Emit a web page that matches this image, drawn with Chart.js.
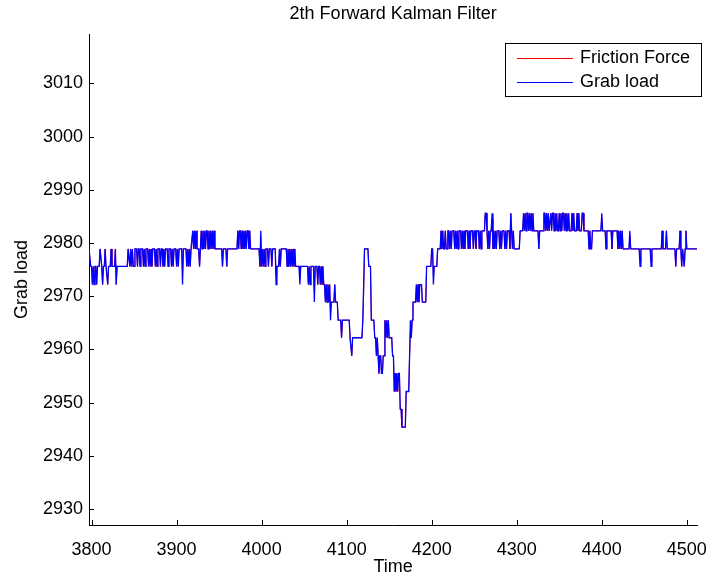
<!DOCTYPE html>
<html>
<head>
<meta charset="utf-8">
<title>2th Forward Kalman Filter</title>
<script src="https://cdn.jsdelivr.net/npm/chart.js@4/dist/chart.umd.min.js"></script>
<style>
    html, body { margin: 0; padding: 0; background: #ffffff; }
    canvas { display: block; }
</style>
</head>
<body>
<canvas id="kalmanChart" width="721" height="578"></canvas>
<script>

const chartTitle = "2th Forward Kalman Filter";
const xLabel = "Time";
const yLabel = "Grab load";
const seriesNames = ["Friction Force", "Grab load"];

const xTicks = [3800, 3900, 4000, 4100, 4200, 4300, 4400, 4500];
const yTicks = [2930, 2940, 2950, 2960, 2970, 2980, 2990, 3000, 3010];
const xRange = [3797, 4512.3];
const yRange = [2927, 3019.3];

// measured signal [time, load]
const grabLoad = [
    [3797,2978.9],[3798,2978.9],[3799,2975.6],[3800,2975.6],[3801,2972.2],[3802,2975.6],[3803,2972.2],[3804,2975.6],
    [3805,2975.6],[3806,2972.2],[3807,2975.6],[3809,2975.6],[3810,2978.9],[3811,2978.9],[3812,2975.6],[3813,2972.2],
    [3814,2975.6],[3815,2975.6],[3816,2978.9],[3817,2975.6],[3819,2972.2],[3820,2975.6],[3822,2975.6],[3823,2978.9],
    [3824,2975.6],[3827,2975.6],[3828,2978.9],[3829,2972.2],[3830,2975.6],[3842,2975.6],
    [3843,2978.9],[3844,2978.9],[3845,2975.6],[3846,2978.9],[3847,2975.6],[3848,2978.9],[3849,2975.6],[3850,2975.6],
    [3851,2978.9],[3853,2978.9],[3854,2975.6],[3855,2978.9],[3856,2978.9],[3857,2975.6],[3858,2978.9],[3860,2978.9],
    [3861,2975.6],[3862,2978.9],[3863,2975.6],[3864,2978.9],[3866,2978.9],[3867,2975.6],[3868,2978.9],[3869,2975.6],
    [3870,2978.9],[3871,2975.6],[3872,2978.9],[3874,2978.9],[3875,2975.6],[3876,2978.9],[3877,2975.6],[3878,2978.9],
    [3880,2978.9],[3881,2975.6],[3882,2978.9],[3883,2978.9],[3884,2975.6],[3885,2978.9],[3886,2975.6],[3887,2978.9],
    [3889,2978.9],[3890,2975.6],[3891,2978.9],[3893,2978.9],[3894,2975.6],[3895,2978.9],[3896,2975.6],[3897,2978.9],
    [3899,2978.9],[3900,2975.6],[3901,2978.9],[3902,2975.6],[3903,2978.9],[3906,2978.9],[3907,2972.2],[3908,2978.9],
    [3911,2978.9],[3912,2975.6],[3913,2978.9],[3914,2975.6],[3915,2978.9],[3916,2975.6],[3917,2978.9],[3918,2978.9],
    [3919,2982.3],[3920,2978.9],[3921,2982.3],[3922,2978.9],[3923,2982.3],[3924,2978.9],[3926,2978.9],[3927,2975.6],
    [3928,2978.9],[3929,2982.3],[3930,2978.9],[3931,2982.3],[3932,2978.9],[3933,2982.3],[3934,2978.9],[3935,2982.3],
    [3936,2982.3],[3937,2978.9],[3938,2982.3],[3939,2978.9],[3940,2982.3],[3941,2978.9],[3942,2982.3],[3943,2978.9],
    [3944,2982.3],[3945,2978.9],[3953,2978.9],[3954,2975.6],[3955,2978.9],[3958,2978.9],[3959,2975.6],[3960,2978.9],
    [3971,2978.9],[3972,2982.3],[3973,2978.9],[3974,2982.3],[3975,2982.3],[3976,2978.9],[3977,2982.3],[3978,2978.9],
    [3979,2982.3],[3980,2978.9],[3981,2982.3],[3982,2978.9],[3983,2982.3],[3984,2982.3],[3985,2978.9],[3986,2982.3],
    [3987,2978.9],[3997,2978.9],[3998,2975.6],[3999,2982.3],[4000,2975.6],[4001,2978.9],[4002,2975.6],[4003,2978.9],
    [4004,2975.6],[4005,2978.9],[4007,2978.9],[4008,2975.6],[4009,2978.9],[4011,2978.9],[4012,2975.6],[4013,2978.9],
    [4016,2978.9],[4017,2972.2],[4018,2975.6],[4020,2975.6],[4021,2978.9],[4022,2975.6],[4023,2978.9],[4029,2978.9],
    [4030,2975.6],[4031,2978.9],[4032,2975.6],[4033,2978.9],[4034,2975.6],[4035,2978.9],[4036,2975.6],[4037,2978.9],
    [4038,2975.6],[4039,2978.9],[4040,2975.6],[4044,2975.6],[4045,2972.2],[4046,2975.6],[4054,2975.6],
    [4055,2972.2],[4056,2975.6],[4057,2972.2],[4058,2975.6],[4061,2975.6],[4062,2968.9],[4063,2975.6],[4065,2975.6],
    [4066,2972.2],[4067,2975.6],[4068,2975.6],[4069,2972.2],[4070,2975.6],[4071,2972.2],[4072,2975.6],[4073,2972.2],
    [4074,2972.2],[4075,2968.9],[4076,2972.2],[4077,2968.9],[4078,2972.2],[4079,2968.9],[4080,2972.2],[4081,2965.5],
    [4082,2968.9],[4085,2968.9],[4086,2972.2],[4087,2968.9],[4089,2968.9],[4090,2965.5],[4093,2965.5],[4094,2962.2],
    [4095,2965.5],[4103,2965.5],[4104,2962.2],[4105,2962.2],[4106,2958.8],[4107,2962.2],[4118,2962.2],
    [4119,2965.5],[4120,2972.2],[4121,2978.9],[4125,2978.9],[4126,2975.6],[4128,2975.6],[4129,2965.5],[4132,2965.5],
    [4133,2962.2],[4134,2962.2],[4135,2958.8],[4136,2962.2],[4137,2958.8],[4138,2955.5],[4139,2958.8],[4140,2958.8],
    [4141,2955.5],[4142,2955.5],[4143,2958.8],[4144,2958.8],[4145,2965.5],[4146,2962.2],[4147,2965.5],[4148,2962.2],
    [4149,2965.5],[4150,2962.2],[4153,2962.2],[4154,2958.8],[4155,2958.8],[4156,2952.1],[4157,2955.5],[4158,2952.1],
    [4159,2955.5],[4160,2952.1],[4161,2955.5],[4162,2955.5],[4163,2948.8],[4164,2948.8],[4165,2945.4],[4169,2945.4],
    [4170,2952.1],[4173,2952.1],[4174,2958.8],[4175,2965.5],[4176,2962.2],[4177,2965.5],[4178,2968.9],[4181,2968.9],
    [4182,2972.2],[4183,2968.9],[4184,2972.2],[4185,2968.9],[4186,2972.2],[4188,2972.2],[4189,2968.9],[4193,2968.9],
    [4194,2975.6],[4199,2975.6],[4200,2978.9],[4201,2978.9],[4202,2972.2],[4203,2975.6],[4206,2975.6],[4207,2978.9],
    [4210,2978.9],[4211,2982.3],[4212,2978.9],[4213,2982.3],[4214,2978.9],[4215,2978.9],[4216,2982.3],[4217,2978.9],
    [4218,2978.9],[4219,2982.3],[4220,2982.3],[4221,2978.9],[4222,2982.3],[4223,2978.9],[4224,2982.3],[4226,2982.3],
    [4227,2978.9],[4228,2982.3],[4229,2978.9],[4230,2982.3],[4231,2978.9],[4232,2982.3],[4234,2982.3],[4235,2978.9],
    [4236,2982.3],[4237,2978.9],[4238,2982.3],[4239,2978.9],[4240,2982.3],[4242,2982.3],[4243,2978.9],[4244,2982.3],
    [4245,2978.9],[4246,2982.3],[4248,2982.3],[4249,2978.9],[4250,2982.3],[4251,2982.3],[4252,2978.9],[4253,2982.3],
    [4255,2982.3],[4256,2978.9],[4257,2982.3],[4258,2978.9],[4259,2982.3],[4262,2982.3],[4263,2985.6],[4264,2985.6],
    [4265,2982.3],[4266,2978.9],[4267,2982.3],[4268,2978.9],[4269,2982.3],[4270,2982.3],[4271,2985.6],[4272,2978.9],
    [4273,2982.3],[4274,2978.9],[4275,2982.3],[4276,2978.9],[4277,2982.3],[4279,2982.3],[4280,2978.9],[4281,2982.3],
    [4282,2978.9],[4283,2982.3],[4285,2982.3],[4286,2978.9],[4287,2982.3],[4288,2978.9],[4289,2982.3],[4291,2982.3],
    [4292,2978.9],[4293,2985.6],[4294,2982.3],[4295,2978.9],[4296,2982.3],[4297,2978.9],[4303,2978.9],[4304,2982.3],
    [4307,2982.3],[4308,2985.6],[4309,2982.3],[4310,2985.6],[4311,2982.3],[4312,2985.6],[4313,2985.6],[4314,2982.3],
    [4315,2985.6],[4316,2982.3],[4317,2985.6],[4318,2982.3],[4319,2985.6],[4320,2982.3],[4325,2982.3],[4326,2978.9],
    [4327,2982.3],[4331,2982.3],[4332,2985.6],[4333,2985.6],[4334,2982.3],[4335,2985.6],[4336,2982.3],[4337,2985.6],
    [4338,2982.3],[4339,2982.3],[4340,2985.6],[4341,2982.3],[4342,2985.6],[4343,2985.6],[4344,2982.3],[4345,2985.6],
    [4346,2982.3],[4347,2985.6],[4348,2982.3],[4349,2982.3],[4350,2985.6],[4351,2982.3],[4352,2985.6],[4353,2982.3],
    [4354,2985.6],[4355,2985.6],[4356,2982.3],[4357,2985.6],[4358,2982.3],[4359,2985.6],[4360,2982.3],[4361,2985.6],
    [4362,2982.3],[4364,2982.3],[4365,2985.6],[4366,2982.3],[4367,2985.6],[4368,2982.3],[4370,2982.3],[4371,2985.6],
    [4372,2982.3],[4373,2985.6],[4374,2982.3],[4376,2982.3],[4377,2985.6],[4378,2985.6],[4379,2982.3],[4384,2982.3],
    [4385,2978.9],[4386,2982.3],[4387,2978.9],[4388,2978.9],[4389,2982.3],[4399,2982.3],[4400,2985.6],[4401,2982.3],
    [4404,2982.3],[4405,2978.9],[4406,2982.3],[4411,2982.3],[4412,2978.9],[4413,2982.3],[4418,2982.3],[4419,2978.9],
    [4420,2982.3],[4421,2978.9],[4422,2982.3],[4423,2978.9],[4424,2982.3],[4425,2978.9],[4432,2978.9],[4433,2982.3],
    [4434,2978.9],[4444,2978.9],[4445,2975.6],[4446,2978.9],[4457,2978.9],[4458,2975.6],[4459,2978.9],[4470,2978.9],
    [4471,2982.3],[4472,2978.9],[4475,2978.9],[4476,2982.3],[4477,2978.9],[4486,2978.9],[4487,2975.6],[4488,2978.9],
    [4491,2978.9],[4492,2982.3],[4493,2978.9],[4494,2975.6],[4495,2978.9],[4497,2975.6],[4498,2978.9],[4499,2982.3],
    [4500,2978.9],[4512,2978.9]
];

// filter estimate [time, force]; it tracks the measured load and lies under it almost everywhere
const frictionForce = [
    [3797,2978.9],[3798,2978.9],[3799,2975.6],[3800,2975.6],[3801,2972.2],[3802,2975.6],[3803,2972.2],[3804,2975.6],
    [3805,2975.6],[3806,2972.2],[3807,2975.6],[3809,2975.6],[3810,2978.9],[3811,2978.9],[3812,2975.6],[3813,2972.2],
    [3814,2975.6],[3815,2975.6],[3816,2978.9],[3817,2975.6],[3819,2972.2],[3820,2975.6],[3822,2975.6],[3823,2978.9],
    [3824,2975.6],[3827,2975.6],[3828,2978.9],[3829,2972.2],[3830,2975.6],[3842,2975.6],
    [3843,2978.9],[3844,2978.9],[3845,2975.6],[3846,2978.9],[3847,2975.6],[3848,2978.9],[3849,2975.6],[3850,2975.6],
    [3851,2978.9],[3853,2978.9],[3854,2975.6],[3855,2978.9],[3856,2978.9],[3857,2975.6],[3858,2978.9],[3860,2978.9],
    [3861,2975.6],[3862,2978.9],[3863,2975.6],[3864,2978.9],[3866,2978.9],[3867,2975.6],[3868,2978.9],[3869,2975.6],
    [3870,2978.9],[3871,2975.6],[3872,2978.9],[3874,2978.9],[3875,2975.6],[3876,2978.9],[3877,2975.6],[3878,2978.9],
    [3880,2978.9],[3881,2975.6],[3882,2978.9],[3883,2978.9],[3884,2975.6],[3885,2978.9],[3886,2975.6],[3887,2978.9],
    [3889,2978.9],[3890,2975.6],[3891,2978.9],[3893,2978.9],[3894,2975.6],[3895,2978.9],[3896,2975.6],[3897,2978.9],
    [3899,2978.9],[3900,2975.6],[3901,2978.9],[3902,2975.6],[3903,2978.9],[3906,2978.9],[3907,2974.0],[3908,2978.9],
    [3911,2978.9],[3912,2975.6],[3913,2978.9],[3914,2975.6],[3915,2978.9],[3916,2975.6],[3917,2978.9],[3918,2978.9],
    [3919,2982.3],[3920,2978.9],[3921,2982.3],[3922,2978.9],[3923,2982.3],[3924,2978.9],[3926,2978.9],[3927,2975.6],
    [3928,2978.9],[3929,2982.3],[3930,2978.9],[3931,2982.3],[3932,2978.9],[3933,2982.3],[3934,2978.9],[3935,2982.3],
    [3936,2982.3],[3937,2978.9],[3938,2982.3],[3939,2978.9],[3940,2982.3],[3941,2978.9],[3942,2982.3],[3943,2978.9],
    [3944,2982.3],[3945,2978.9],[3953,2978.9],[3954,2975.6],[3955,2978.9],[3958,2978.9],[3959,2975.6],[3960,2978.9],
    [3971,2978.9],[3972,2982.3],[3973,2978.9],[3974,2982.3],[3975,2982.3],[3976,2978.9],[3977,2982.3],[3978,2978.9],
    [3979,2982.3],[3980,2978.9],[3981,2982.3],[3982,2978.9],[3983,2982.3],[3984,2982.3],[3985,2978.9],[3986,2982.3],
    [3987,2978.9],[3997,2978.9],[3998,2975.6],[3999,2981.0],[4000,2975.6],[4001,2978.9],[4002,2975.6],[4003,2978.9],
    [4004,2975.6],[4005,2978.9],[4007,2978.9],[4008,2975.6],[4009,2978.9],[4011,2978.9],[4012,2975.6],[4013,2978.9],
    [4016,2978.9],[4017,2973.9],[4018,2975.6],[4020,2975.6],[4021,2978.9],[4022,2975.6],[4023,2978.9],[4029,2978.9],
    [4030,2975.6],[4031,2978.9],[4032,2975.6],[4033,2978.9],[4034,2975.6],[4035,2978.9],[4036,2975.6],[4037,2978.9],
    [4038,2975.6],[4039,2978.9],[4040,2975.6],[4044,2975.6],[4045,2973.4],[4046,2975.6],[4054,2975.6],
    [4055,2972.2],[4056,2975.6],[4057,2972.2],[4058,2975.6],[4061,2975.6],[4062,2971.0],[4063,2975.6],[4065,2975.6],
    [4066,2972.2],[4067,2975.6],[4068,2975.6],[4069,2972.2],[4070,2975.6],[4071,2972.2],[4072,2975.6],[4073,2972.2],
    [4074,2972.2],[4075,2968.9],[4076,2972.2],[4077,2968.9],[4078,2972.2],[4079,2968.9],[4080,2972.2],[4081,2967.0],
    [4082,2968.9],[4085,2968.9],[4086,2972.2],[4087,2968.9],[4089,2968.9],[4090,2965.5],[4093,2965.5],[4094,2962.2],
    [4095,2965.5],[4103,2965.5],[4104,2962.2],[4105,2962.2],[4106,2958.8],[4107,2962.2],[4118,2962.2],
    [4119,2965.5],[4120,2971.0],[4121,2978.9],[4125,2978.9],[4126,2975.6],[4128,2975.6],[4129,2965.5],[4132,2965.5],
    [4133,2962.2],[4134,2962.2],[4135,2958.8],[4136,2962.2],[4137,2958.8],[4138,2955.5],[4139,2958.8],[4140,2958.8],
    [4141,2955.5],[4142,2955.5],[4143,2958.8],[4144,2958.8],[4145,2965.5],[4146,2962.2],[4147,2965.5],[4148,2962.2],
    [4149,2965.5],[4150,2962.2],[4153,2962.2],[4154,2958.8],[4155,2958.8],[4156,2952.1],[4157,2955.5],[4158,2952.1],
    [4159,2955.5],[4160,2952.1],[4161,2955.5],[4162,2955.5],[4163,2948.8],[4164,2948.8],[4165,2945.4],[4169,2945.4],
    [4170,2952.1],[4173,2952.1],[4174,2958.8],[4175,2964.0],[4176,2962.2],[4177,2965.5],[4178,2968.9],[4181,2968.9],
    [4182,2972.2],[4183,2968.9],[4184,2972.2],[4185,2968.9],[4186,2972.2],[4188,2972.2],[4189,2968.9],[4193,2968.9],
    [4194,2975.6],[4199,2975.6],[4200,2978.9],[4201,2978.9],[4202,2974.0],[4203,2975.6],[4206,2975.6],[4207,2978.9],
    [4210,2978.9],[4211,2982.3],[4212,2978.9],[4213,2982.3],[4214,2978.9],[4215,2978.9],[4216,2982.3],[4217,2978.9],
    [4218,2978.9],[4219,2982.3],[4220,2982.3],[4221,2978.9],[4222,2982.3],[4223,2978.9],[4224,2982.3],[4226,2982.3],
    [4227,2978.9],[4228,2982.3],[4229,2978.9],[4230,2982.3],[4231,2978.9],[4232,2982.3],[4234,2982.3],[4235,2978.9],
    [4236,2982.3],[4237,2978.9],[4238,2982.3],[4239,2978.9],[4240,2982.3],[4242,2982.3],[4243,2978.9],[4244,2982.3],
    [4245,2978.9],[4246,2982.3],[4248,2982.3],[4249,2978.9],[4250,2982.3],[4251,2982.3],[4252,2978.9],[4253,2982.3],
    [4255,2982.3],[4256,2978.9],[4257,2982.3],[4258,2978.9],[4259,2982.3],[4262,2982.3],[4263,2985.6],[4264,2985.6],
    [4265,2982.3],[4266,2978.9],[4267,2982.3],[4268,2978.9],[4269,2982.3],[4270,2982.3],[4271,2984.5],[4272,2978.9],
    [4273,2982.3],[4274,2978.9],[4275,2982.3],[4276,2978.9],[4277,2982.3],[4279,2982.3],[4280,2978.9],[4281,2982.3],
    [4282,2978.9],[4283,2982.3],[4285,2982.3],[4286,2978.9],[4287,2982.3],[4288,2978.9],[4289,2982.3],[4291,2982.3],
    [4292,2978.9],[4293,2985.6],[4294,2982.3],[4295,2978.9],[4296,2982.3],[4297,2978.9],[4303,2978.9],[4304,2982.3],
    [4307,2982.3],[4308,2985.6],[4309,2982.3],[4310,2985.6],[4311,2982.3],[4312,2985.6],[4313,2985.6],[4314,2982.3],
    [4315,2985.6],[4316,2982.3],[4317,2985.6],[4318,2982.3],[4319,2985.6],[4320,2982.3],[4325,2982.3],[4326,2978.9],
    [4327,2982.3],[4331,2982.3],[4332,2985.6],[4333,2985.6],[4334,2982.3],[4335,2985.6],[4336,2982.3],[4337,2985.6],
    [4338,2982.3],[4339,2982.3],[4340,2985.6],[4341,2982.3],[4342,2985.6],[4343,2985.6],[4344,2982.3],[4345,2985.6],
    [4346,2982.3],[4347,2985.6],[4348,2982.3],[4349,2982.3],[4350,2985.6],[4351,2982.3],[4352,2985.6],[4353,2982.3],
    [4354,2985.6],[4355,2985.6],[4356,2982.3],[4357,2985.6],[4358,2982.3],[4359,2985.6],[4360,2982.3],[4361,2985.6],
    [4362,2982.3],[4364,2982.3],[4365,2985.6],[4366,2982.3],[4367,2985.6],[4368,2982.3],[4370,2982.3],[4371,2985.6],
    [4372,2982.3],[4373,2985.6],[4374,2982.3],[4376,2982.3],[4377,2985.6],[4378,2985.6],[4379,2982.3],[4384,2982.3],
    [4385,2978.9],[4386,2982.3],[4387,2978.9],[4388,2978.9],[4389,2982.3],[4399,2982.3],[4400,2984.8],[4401,2982.3],
    [4404,2982.3],[4405,2978.9],[4406,2982.3],[4411,2982.3],[4412,2978.9],[4413,2982.3],[4418,2982.3],[4419,2978.9],
    [4420,2982.3],[4421,2978.9],[4422,2982.3],[4423,2978.9],[4424,2982.3],[4425,2978.9],[4432,2978.9],[4433,2981.5],
    [4434,2978.9],[4444,2978.9],[4445,2976.4],[4446,2978.9],[4457,2978.9],[4458,2976.4],[4459,2978.9],[4470,2978.9],
    [4471,2982.3],[4472,2978.9],[4475,2978.9],[4476,2982.3],[4477,2978.9],[4486,2978.9],[4487,2975.6],[4488,2978.9],
    [4491,2978.9],[4492,2982.3],[4493,2978.9],[4494,2975.6],[4495,2978.9],[4497,2975.6],[4498,2978.9],[4499,2982.3],
    [4500,2978.9],[4512,2978.9]
];

const FONT = "'Liberation Sans', Arial, Helvetica, sans-serif";

document.addEventListener("DOMContentLoaded", function () {

    drawChart();

});

function toPoints(list) {

    return list.map(p => ({ x: p[0], y: p[1] }));

}

const matlabAxes = {

    id: "matlabAxes",

    afterDraw(chart) {

        const ctx = chart.ctx;
        const area = chart.chartArea;
        const xs = chart.scales.x;
        const ys = chart.scales.y;

        ctx.save();

        // inward tick marks
        ctx.strokeStyle = "#000000";
        ctx.lineWidth = 1;
        ctx.beginPath();

        xs.ticks.forEach(t => {
            const px = Math.round(xs.getPixelForValue(t.value)) + 0.5;
            ctx.moveTo(px, area.bottom);
            ctx.lineTo(px, area.bottom - 5);
        });

        ys.ticks.forEach(t => {
            const py = Math.round(ys.getPixelForValue(t.value)) + 0.5;
            ctx.moveTo(area.left, py);
            ctx.lineTo(area.left + 5, py);
        });

        ctx.stroke();

        // title
        ctx.fillStyle = "#000000";
        ctx.font = "18px " + FONT;
        ctx.textAlign = "center";
        ctx.textBaseline = "middle";
        ctx.fillText(chartTitle, (area.left + area.right) / 2, 14);

        // legend box
        const bx = 505.5, by = 43.5, bw = 196, bh = 53;
        ctx.fillStyle = "#ffffff";
        ctx.fillRect(bx, by, bw, bh);
        ctx.strokeStyle = "#000000";
        ctx.strokeRect(bx, by, bw, bh);

        ctx.textAlign = "left";
        chart.data.datasets.forEach((ds, i) => {
            const ly = 58.5 + i * 24;
            ctx.strokeStyle = ds.borderColor;
            ctx.lineWidth = 1;
            ctx.beginPath();
            ctx.moveTo(517, ly);
            ctx.lineTo(573, ly);
            ctx.stroke();
            ctx.fillStyle = "#000000";
            ctx.fillText(ds.label, 580, ly);
        });

        ctx.restore();

    }

};

function drawChart() {

    const canvas = document.getElementById("kalmanChart");

    if (!canvas) return;

    const ctx = canvas.getContext("2d");

    new Chart(ctx, {

        type: "line",

        data: {
            datasets: [{
                label: seriesNames[0],
                data: toPoints(frictionForce),
                borderColor: "#ff0000",
                borderWidth: 1,
                pointRadius: 0,
                tension: 0,
                fill: false,
                order: 1
            }, {
                label: seriesNames[1],
                data: toPoints(grabLoad),
                borderColor: "#0000ff",
                borderWidth: 1.3,
                pointRadius: 0,
                tension: 0,
                fill: false,
                order: 0
            }]
        },

        options: {
            responsive: false,
            animation: false,
            devicePixelRatio: 1,
            events: [],
            layout: {
                padding: { top: 34, right: 10, left: 0, bottom: 0 }
            },
            plugins: {
                legend: { display: false },
                title: { display: false },
                tooltip: { enabled: false }
            },
            scales: {
                x: {
                    type: "linear",
                    min: xRange[0],
                    max: xRange[1],
                    afterBuildTicks: s => { s.ticks = xTicks.map(v => ({ value: v })); },
                    afterFit: s => { s.height = 53; },
                    grid: { display: false, drawTicks: false },
                    border: { display: true, color: "#000000", width: 1 },
                    ticks: {
                        color: "#000000",
                        padding: 14,
                        maxRotation: 0,
                        autoSkip: false,
                        font: { family: FONT, size: 18, lineHeight: 1.2 },
                        callback: v => String(v)
                    },
                    title: {
                        display: true,
                        text: xLabel,
                        color: "#000000",
                        padding: { top: 0, bottom: 0 },
                        font: { family: FONT, size: 18, lineHeight: 1.2 }
                    }
                },
                y: {
                    type: "linear",
                    min: yRange[0],
                    max: yRange[1],
                    afterBuildTicks: s => { s.ticks = yTicks.map(v => ({ value: v })); },
                    afterFit: s => { s.width = 89; },
                    grid: { display: false, drawTicks: false },
                    border: { display: true, color: "#000000", width: 1 },
                    ticks: {
                        color: "#000000",
                        padding: 6,
                        autoSkip: false,
                        font: { family: FONT, size: 18, lineHeight: 1.2 },
                        callback: v => String(v)
                    },
                    title: {
                        display: true,
                        text: yLabel,
                        color: "#000000",
                        padding: { top: 11, bottom: 0 },
                        font: { family: FONT, size: 18, lineHeight: 1.2 }
                    }
                }
            }
        },

        plugins: [matlabAxes]

    });

}

</script>
</body>
</html>
